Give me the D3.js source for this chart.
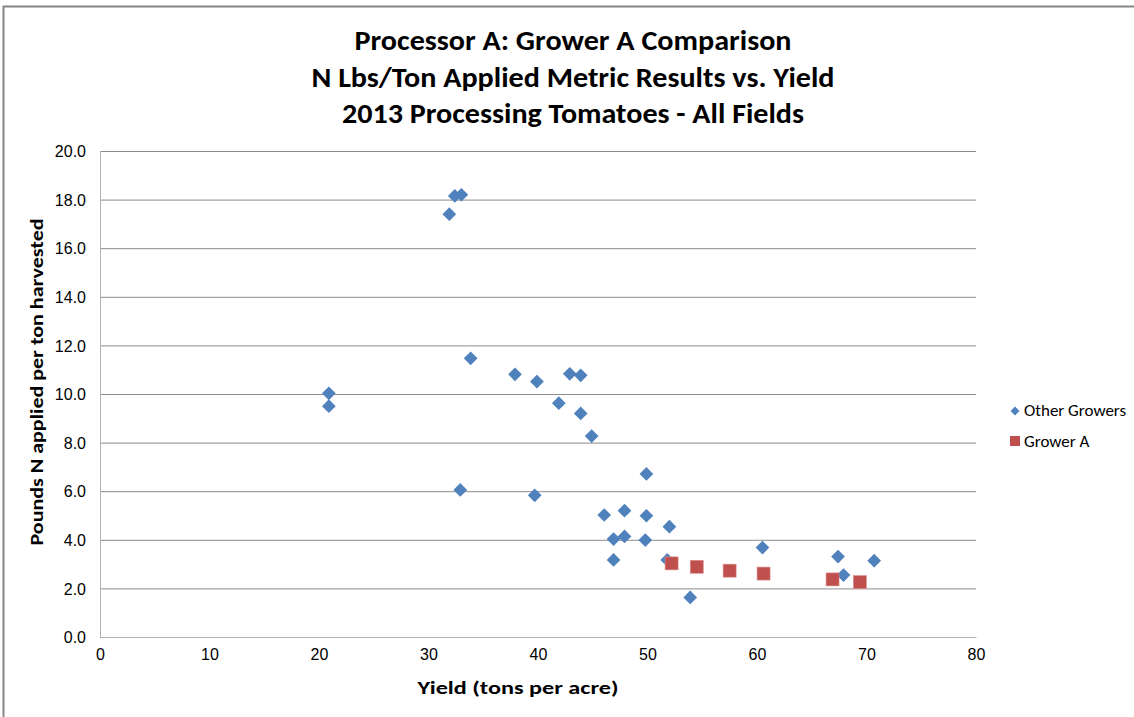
<!DOCTYPE html>
<html>
<head>
<meta charset="utf-8" />
<title>Processor A: Grower A Comparison</title>
<style>
    body { margin: 0; background: #fff; }
    svg { display: block; font-family: Calibri, Carlito, "Liberation Sans", Arial, sans-serif; }
    .grid line { stroke: #8c8c8c; stroke-width: 1px; }
    .tick text { fill: #000; font-size: 16px; }
    .axis-title { font-size: 17.5px; font-weight: bold; }
    .title { font-size: 28px; font-weight: bold; }
    .legend text { font-size: 17px; }
</style>
</head>
<body>
<div id="chart"></div>
<script src="https://cdn.jsdelivr.net/npm/d3@7"></script>
<script>
// Other growers: yield (tons/acre) and N lbs applied per ton harvested
var otherYield = [32.4, 33.0, 31.9, 20.9, 20.9, 33.85, 37.9, 39.9, 42.9, 43.9,
    41.9, 43.9, 44.9, 32.9, 39.7, 49.9, 46.05, 47.9, 49.9, 52.0,
    46.9, 47.9, 49.8, 46.9, 51.8, 53.9, 60.5, 67.4, 67.9, 70.7];
var otherN = [18.15, 18.2, 17.4, 10.03, 9.5, 11.47, 10.81, 10.51, 10.83, 10.77,
    9.62, 9.2, 8.27, 6.05, 5.83, 6.71, 5.02, 5.2, 4.99, 4.54,
    4.03, 4.14, 3.99, 3.17, 3.17, 1.63, 3.68, 3.31, 2.55, 3.14];

// Grower A
var growerYield = [52.2, 54.5, 57.5, 60.6, 66.9, 69.4];
var growerN = [3.03, 2.89, 2.73, 2.61, 2.37, 2.26];

var xTicks = [0, 10, 20, 30, 40, 50, 60, 70, 80];
var yTicks = [0, 2, 4, 6, 8, 10, 12, 14, 16, 18, 20];

var titleLines = ["Processor A: Grower A Comparison",
    "N Lbs/Ton Applied Metric Results vs. Yield",
    "2013 Processing Tomatoes - All Fields"];
var titleWidths = [437, 523, 462];
var seriesNames = ["Other Growers", "Grower A"];

var width = 1134, height = 717;
var margin = { top: 151, left: 100, right: 158, bottom: 80 };

var svg = d3.select("#chart").append("svg")
    .attr("width", width)
    .attr("height", height);

// outer chart border
svg.append("rect")
    .attr("x", 3.5).attr("y", 6.5)
    .attr("width", width + 10).attr("height", height + 10)
    .attr("fill", "none")
    .attr("stroke", "#868686")
    .attr("stroke-width", 2);

var x = d3.scaleLinear().domain([0, 80]).range([margin.left, width - margin.right]);
var y = d3.scaleLinear().domain([0, 20]).range([height - margin.bottom, margin.top]);

// horizontal gridlines + y labels
var yAxis = svg.append("g")
    .attr("class", "grid")
    .attr("transform", "translate(" + margin.left + ",0)")
    .call(d3.axisLeft(y).tickValues(yTicks).tickFormat(d3.format(".1f"))
        .tickSize(-(x(80) - x(0))).tickPadding(14));
yAxis.select(".domain").remove();
yAxis.selectAll(".tick text").attr("dy", "0.36em");
yAxis.selectAll(".tick").filter(function(d) { return d === 0; }).select("line").attr("stroke", "#b3b3b3");

// x axis labels
var xAxis = svg.append("g")
    .attr("transform", "translate(0," + y(0) + ")")
    .call(d3.axisBottom(x).tickValues(xTicks).tickSize(0).tickPadding(12));
xAxis.select(".domain").attr("stroke", "#b3b3b3");
xAxis.selectAll(".tick text").attr("dy", "0.71em");

// left axis line
svg.append("line")
    .attr("x1", x(0) + 0.5).attr("x2", x(0) + 0.5)
    .attr("y1", y(20)).attr("y2", y(0))
    .attr("stroke", "#b3b3b3");

// titles
svg.selectAll(".title")
    .data(titleLines)
    .enter().append("text")
    .attr("class", "title")
    .attr("x", 573)
    .attr("y", function(d, i) { return 50 + i * 36.5; })
    .attr("text-anchor", "middle")
    .attr("textLength", function(d, i) { return titleWidths[i]; })
    .attr("lengthAdjust", "spacingAndGlyphs")
    .text(function(d) { return d; });

svg.append("text")
    .attr("class", "axis-title")
    .attr("x", 518).attr("y", 694)
    .attr("text-anchor", "middle")
    .attr("textLength", 201)
    .attr("lengthAdjust", "spacingAndGlyphs")
    .text("Yield (tons per acre)");

svg.append("text")
    .attr("class", "axis-title")
    .attr("transform", "translate(43,382) rotate(-90)")
    .attr("text-anchor", "middle")
    .attr("textLength", 327)
    .attr("lengthAdjust", "spacingAndGlyphs")
    .text("Pounds N applied per ton harvested");

// markers
var diamond = d3.symbol().type(d3.symbolDiamond2).size(120);

svg.append("g")
    .selectAll("path")
    .data(d3.range(otherYield.length))
    .enter().append("path")
    .attr("d", diamond)
    .attr("transform", function(i) { return "translate(" + x(otherYield[i]) + "," + y(otherN[i]) + ")"; })
    .attr("fill", "#4F81BD");

svg.append("g")
    .selectAll("rect")
    .data(d3.range(growerYield.length))
    .enter().append("rect")
    .attr("x", function(i) { return x(growerYield[i]) - 6.5; })
    .attr("y", function(i) { return y(growerN[i]) - 6.5; })
    .attr("width", 13).attr("height", 13)
    .attr("fill", "#C0504D")
    .attr("stroke", "#d9908e")
    .attr("stroke-width", 0.6);

// legend
var legend = svg.append("g").attr("class", "legend");
legend.append("path")
    .attr("d", d3.symbol().type(d3.symbolDiamond2).size(50))
    .attr("transform", "translate(1015,411)")
    .attr("fill", "#4F81BD");
legend.append("rect")
    .attr("x", 1010).attr("y", 436)
    .attr("width", 10).attr("height", 10)
    .attr("fill", "#C0504D");
legend.selectAll("text")
    .data(seriesNames)
    .enter().append("text")
    .attr("x", 1024)
    .attr("y", function(d, i) { return 416 + i * 31; })
    .text(function(d) { return d; });
</script>
</body>
</html>
